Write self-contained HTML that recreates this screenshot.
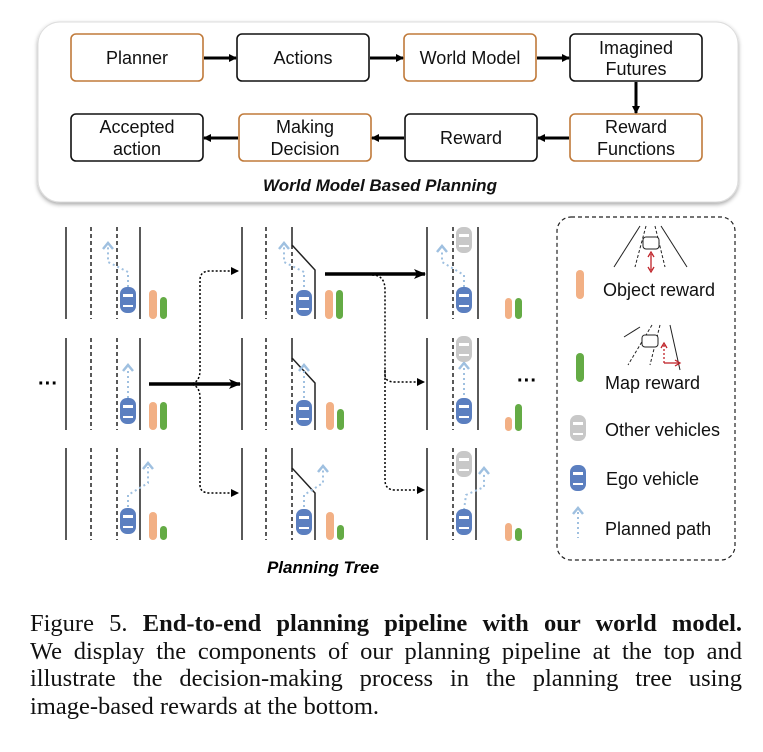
<!DOCTYPE html>
<html><head><meta charset="utf-8"><style>
body{margin:0;background:#fff;width:763px;height:752px;overflow:hidden;position:relative}
.cap{position:absolute;left:30px;top:610px;width:712px;font-family:"Liberation Serif",serif;font-size:24.5px;line-height:27.5px;color:#111}
.cap div{text-align:justify;text-align-last:justify;white-space:nowrap}
.cap div.l{text-align-last:left}
</style></head><body>
<svg width="763" height="600" style="position:absolute;left:0;top:0" font-family="Liberation Sans, sans-serif">
<defs>
<marker id="a" markerWidth="8" markerHeight="8" refX="7" refY="4" orient="auto" markerUnits="userSpaceOnUse"><path d="M0,0 L8,4 L0,8z" fill="#000"/></marker>
<marker id="ab" markerWidth="12" markerHeight="12" refX="11" refY="6" orient="auto" markerUnits="userSpaceOnUse"><path d="M0,1 L12,6 L0,11 L3,6z" fill="#000"/></marker>
<g id="car"><rect x="-8" y="-13" width="16" height="26" rx="7" fill="#5b7fc0"/><rect x="-5" y="-6" width="10" height="3" fill="#fff"/><rect x="-5" y="5" width="10" height="2" fill="#fff"/></g>
<g id="gcar"><rect x="-8" y="-13" width="16" height="26" rx="7" fill="#c8c8c8"/><rect x="-5" y="-6" width="10" height="3" fill="#fff"/><rect x="-5" y="5" width="10" height="2" fill="#fff"/></g>
<g id="chev"><path d="M-5,5 L0,-1 L5,5" fill="none" stroke="#9fc0e0" stroke-width="2.5"/></g>
<filter id="sh"><feDropShadow dx="0" dy="2" stdDeviation="2" flood-opacity="0.35"/></filter>
</defs>
<rect x="38" y="22" width="700" height="180" rx="22" fill="#fff" stroke="#ddd" filter="url(#sh)"/>
<g stroke-width="1.6" fill="#fff">
<rect x="71" y="34" width="132" height="47" rx="5" stroke="#c07a3a"/>
<rect x="237" y="34" width="132" height="47" rx="5" stroke="#111"/>
<rect x="404" y="34" width="132" height="47" rx="5" stroke="#c07a3a"/>
<rect x="570" y="34" width="132" height="47" rx="5" stroke="#111"/>
<rect x="71" y="114" width="132" height="47" rx="5" stroke="#111"/>
<rect x="239" y="114" width="132" height="47" rx="5" stroke="#c07a3a"/>
<rect x="405" y="114" width="132" height="47" rx="5" stroke="#111"/>
<rect x="570" y="114" width="132" height="47" rx="5" stroke="#c07a3a"/>
</g>
<g stroke="#000" stroke-width="3" marker-end="url(#a)">
<line x1="204" y1="58" x2="236" y2="58"/><line x1="370" y1="58" x2="403" y2="58"/><line x1="537" y1="58" x2="569" y2="58"/>
<line x1="636" y1="82" x2="636" y2="113"/>
<line x1="569" y1="138" x2="538" y2="138"/><line x1="404" y1="138" x2="372" y2="138"/><line x1="238" y1="138" x2="204" y2="138"/>
</g>
<g font-size="18" text-anchor="middle" fill="#111">
<text x="137" y="64">Planner</text><text x="303" y="64">Actions</text><text x="470" y="64">World Model</text>
<text x="636" y="54">Imagined</text><text x="636" y="75">Futures</text>
<text x="137" y="133">Accepted</text><text x="137" y="155">action</text>
<text x="305" y="133">Making</text><text x="305" y="155">Decision</text>
<text x="471" y="144">Reward</text>
<text x="636" y="133">Reward</text><text x="636" y="155">Functions</text>
<text x="380" y="191" font-weight="bold" font-style="italic" font-size="17">World Model Based Planning</text>
</g>
<!-- column 1 -->
<g stroke="#222" stroke-width="1.5">
<line x1="66" y1="227" x2="66" y2="319"/><line x1="91" y1="227" x2="91" y2="319" stroke-dasharray="4,3"/><line x1="117" y1="227" x2="117" y2="319" stroke-dasharray="4,3"/><line x1="140" y1="227" x2="140" y2="319"/>
<line x1="66" y1="338" x2="66" y2="430"/><line x1="91" y1="338" x2="91" y2="430" stroke-dasharray="4,3"/><line x1="117" y1="338" x2="117" y2="430" stroke-dasharray="4,3"/><line x1="140" y1="338" x2="140" y2="430"/>
<line x1="66" y1="448" x2="66" y2="540"/><line x1="91" y1="448" x2="91" y2="540" stroke-dasharray="4,3"/><line x1="117" y1="448" x2="117" y2="540" stroke-dasharray="4,3"/><line x1="140" y1="448" x2="140" y2="540"/>
</g>
<g fill="none" stroke="#9fc0e0" stroke-width="2" stroke-dasharray="2,3">
<path d="M128,287 L128,272 L108,262 L108,247"/>
<path d="M128,398 L128,369"/>
<path d="M128,507 L128,495 L148,483 L148,467"/>
</g>
<use href="#chev" x="108" y="244"/><use href="#chev" x="128" y="366"/><use href="#chev" x="148" y="464"/>
<use href="#car" x="128" y="300"/><use href="#car" x="128" y="411"/><use href="#car" x="128" y="521"/>
<rect x="149" y="290" width="8" height="29" rx="4" fill="#f2b085"/><rect x="160" y="297" width="7" height="22" rx="3.5" fill="#64ab45"/>
<rect x="149" y="402" width="8" height="28" rx="4" fill="#f2b085"/><rect x="160" y="402" width="7" height="28" rx="3.5" fill="#64ab45"/>
<rect x="149" y="512" width="8" height="28" rx="4" fill="#f2b085"/><rect x="160" y="526" width="7" height="14" rx="3.5" fill="#64ab45"/>
<text x="38" y="390" font-size="20" font-weight="bold">···</text>
<!-- column 2 -->
<g stroke="#222" stroke-width="1.5" fill="none">
<line x1="242" y1="227" x2="242" y2="319"/><line x1="266" y1="227" x2="266" y2="319" stroke-dasharray="4,3"/><line x1="292" y1="245" x2="292" y2="319" stroke-dasharray="4,3"/><path d="M292,227 L292,245 L315,270 L315,319"/>
<line x1="242" y1="338" x2="242" y2="430"/><line x1="266" y1="338" x2="266" y2="430" stroke-dasharray="4,3"/><line x1="292" y1="358" x2="292" y2="430" stroke-dasharray="4,3"/><path d="M292,338 L292,358 L315,383 L315,430"/>
<line x1="242" y1="448" x2="242" y2="540"/><line x1="266" y1="448" x2="266" y2="540" stroke-dasharray="4,3"/><line x1="292" y1="468" x2="292" y2="540" stroke-dasharray="4,3"/><path d="M292,448 L292,468 L315,493 L315,540"/>
</g>
<g fill="none" stroke="#9fc0e0" stroke-width="2" stroke-dasharray="2,3">
<path d="M304,287 L304,272 L284,262 L284,247"/>
<path d="M304,398 L304,369"/>
<path d="M304,507 L304,495 L323,483 L323,470"/>
</g>
<use href="#chev" x="284" y="244"/><use href="#chev" x="304" y="366"/><use href="#chev" x="323" y="467"/>
<use href="#car" x="304" y="303"/><use href="#car" x="304" y="413"/><use href="#car" x="304" y="522"/>
<rect x="325" y="290" width="8" height="29" rx="4" fill="#f2b085"/><rect x="336" y="290" width="7" height="29" rx="3.5" fill="#64ab45"/>
<rect x="326" y="402" width="8" height="28" rx="4" fill="#f2b085"/><rect x="337" y="409" width="7" height="21" rx="3.5" fill="#64ab45"/>
<rect x="326" y="512" width="8" height="28" rx="4" fill="#f2b085"/><rect x="337" y="525" width="7" height="15" rx="3.5" fill="#64ab45"/>
<!-- column 3 -->
<g stroke="#222" stroke-width="1.5">
<line x1="427" y1="227" x2="427" y2="319"/><line x1="453" y1="227" x2="453" y2="319" stroke-dasharray="4,3"/><line x1="478" y1="227" x2="478" y2="319"/>
<line x1="427" y1="338" x2="427" y2="430"/><line x1="453" y1="338" x2="453" y2="430" stroke-dasharray="4,3"/><line x1="478" y1="338" x2="478" y2="430"/>
<line x1="427" y1="448" x2="427" y2="540"/><line x1="453" y1="448" x2="453" y2="540" stroke-dasharray="4,3"/><line x1="476" y1="448" x2="476" y2="540"/>
</g>
<g fill="none" stroke="#9fc0e0" stroke-width="2" stroke-dasharray="2,3">
<path d="M464,287 L464,275 L442,262 L442,250"/>
<path d="M464,400 L464,367"/>
<path d="M464,510 L466,495 L484,487 L484,472"/>
</g>
<use href="#chev" x="442" y="247"/><use href="#chev" x="464" y="364"/><use href="#chev" x="484" y="469"/>
<use href="#gcar" x="464" y="240"/><use href="#car" x="464" y="300"/>
<use href="#gcar" x="464" y="349"/><use href="#car" x="464" y="411"/>
<use href="#gcar" x="464" y="464"/><use href="#car" x="464" y="522"/>
<rect x="505" y="298" width="7" height="21" rx="3.5" fill="#f2b085"/><rect x="515" y="298" width="7" height="21" rx="3.5" fill="#64ab45"/>
<rect x="505" y="417" width="7" height="14" rx="3.5" fill="#f2b085"/><rect x="515" y="404" width="7" height="27" rx="3.5" fill="#64ab45"/>
<rect x="505" y="523" width="7" height="18" rx="3.5" fill="#f2b085"/><rect x="515" y="528" width="7" height="13" rx="3.5" fill="#64ab45"/>
<text x="517" y="387" font-size="20" font-weight="bold">···</text>
<!-- connectors -->
<line x1="149" y1="384" x2="240" y2="384" stroke="#000" stroke-width="3.5" marker-end="url(#ab)"/>
<g fill="none" stroke="#000" stroke-width="1.5" stroke-dasharray="2,2">
<path d="M188,384 Q200,384 200,370 L200,280 Q200,271 210,271 L238,271" marker-end="url(#a)"/>
<path d="M188,384 Q200,384 200,398 L200,485 Q200,493 210,493 L238,493" marker-end="url(#a)"/>
<path d="M372,275 Q385,275 385,290 L385,375 Q385,382 395,382 L424,382" marker-end="url(#a)"/>
<path d="M385,370 L385,480 Q385,490 395,490 L424,490" marker-end="url(#a)"/>
</g>
<line x1="325" y1="274" x2="425" y2="274" stroke="#000" stroke-width="3.5" marker-end="url(#ab)"/>
<text x="323" y="573" font-size="17" font-weight="bold" font-style="italic" text-anchor="middle">Planning Tree</text>
<!-- legend -->
<rect x="557" y="217" width="178" height="343" rx="14" fill="none" stroke="#222" stroke-width="1.2" stroke-dasharray="4,3"/>
<g stroke="#222" stroke-width="1" fill="none">
<line x1="640" y1="226" x2="614" y2="267"/><line x1="661" y1="226" x2="687" y2="267"/>
<line x1="646" y1="226" x2="635" y2="267" stroke-dasharray="3,2"/><line x1="655" y1="226" x2="665" y2="267" stroke-dasharray="3,2"/>
<rect x="643" y="237" width="16" height="12" rx="3" fill="#fff"/>
<line x1="640" y1="327" x2="624" y2="337"/><line x1="670" y1="325" x2="680" y2="370"/>
<line x1="652" y1="325" x2="628" y2="365" stroke-dasharray="3,2"/><line x1="660" y1="325" x2="650" y2="365" stroke-dasharray="3,2"/>
<rect x="642" y="335" width="16" height="12" rx="3" fill="#fff"/>
</g>
<g stroke="#c0242a" stroke-width="1.3" fill="none">
<line x1="651" y1="254" x2="651" y2="270"/><path d="M648,257 L651,252 L654,257 M648,267 L651,272 L654,267"/>
<line x1="664" y1="345" x2="664" y2="363" stroke-dasharray="2,2"/><line x1="664" y1="363" x2="678" y2="363"/><path d="M661,348 L664,343 L667,348 M675,360 L680,363 L675,366"/>
</g>
<rect x="576" y="270" width="8" height="29" rx="4" fill="#f2b085"/>
<rect x="576" y="353" width="8" height="29" rx="4" fill="#64ab45"/>
<use href="#gcar" x="578" y="428"/>
<use href="#car" x="578" y="478"/>
<path d="M578,512 L578,538" stroke="#9fc0e0" stroke-width="2" stroke-dasharray="2,3"/>
<use href="#chev" x="578" y="509"/>
<g font-size="18" fill="#111">
<text x="603" y="296">Object reward</text>
<text x="605" y="389">Map reward</text>
<text x="605" y="436">Other vehicles</text>
<text x="606" y="485">Ego vehicle</text>
<text x="605" y="535">Planned path</text>
</g>
</svg>
<div class="cap">
<div>Figure 5. <b>End-to-end planning pipeline with our world model.</b></div>
<div>We display the components of our planning pipeline at the top and</div>
<div>illustrate the decision-making process in the planning tree using</div>
<div class="l">image-based rewards at the bottom.</div>
</div>
</body></html>
